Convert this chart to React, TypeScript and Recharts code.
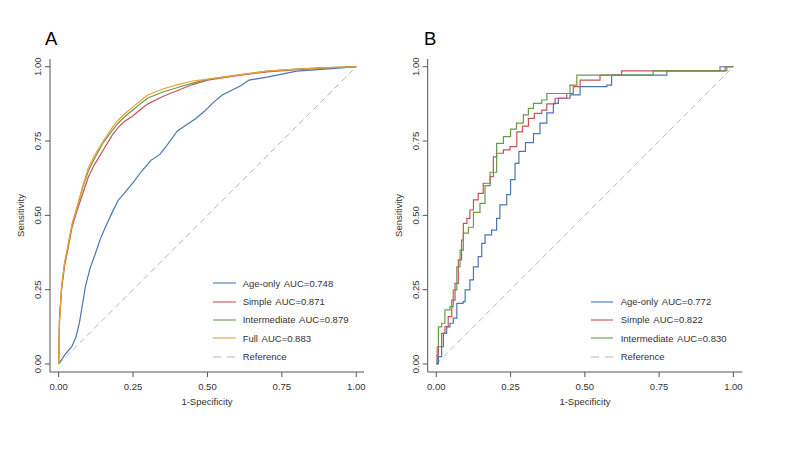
import { LineChart, Line, XAxis, YAxis, Legend } from "recharts";

// ROC points (x = 1-specificity, y = sensitivity)
const axisTicks = [0, 0.25, 0.5, 0.75, 1];

// Panel A
const fprAgeA = [0, 0.02, 0.045, 0.058, 0.07, 0.08, 0.09, 0.105, 0.123, 0.14, 0.157, 0.18, 0.2, 0.225, 0.25, 0.28, 0.31, 0.34, 0.36, 0.38, 0.4, 0.43, 0.46, 0.49, 0.52, 0.55, 0.58, 0.61, 0.64, 0.67, 0.7, 0.75, 0.8, 0.87, 0.94, 1];
const tprAgeA = [0, 0.03, 0.06, 0.09, 0.14, 0.2, 0.26, 0.32, 0.37, 0.42, 0.46, 0.51, 0.55, 0.58, 0.61, 0.65, 0.685, 0.705, 0.73, 0.758, 0.785, 0.805, 0.825, 0.85, 0.88, 0.905, 0.92, 0.935, 0.955, 0.96, 0.965, 0.975, 0.985, 0.99, 0.995, 1];
const fprTopA = [0, 0.003, 0.01, 0.02, 0.03, 0.045, 0.06, 0.08, 0.1, 0.12, 0.15, 0.18, 0.2, 0.22, 0.25, 0.28, 0.3, 0.35, 0.4, 0.45, 0.5, 0.6, 0.7, 0.8, 0.9, 1];
const tprSimpleA = [0, 0.15, 0.25, 0.33, 0.38, 0.46, 0.51, 0.57, 0.63, 0.67, 0.72, 0.77, 0.795, 0.815, 0.835, 0.86, 0.875, 0.9, 0.92, 0.94, 0.955, 0.97, 0.983, 0.99, 0.996, 1];
const tprInterA = [0, 0.15, 0.26, 0.34, 0.39, 0.47, 0.52, 0.59, 0.65, 0.69, 0.745, 0.785, 0.81, 0.83, 0.855, 0.88, 0.895, 0.915, 0.93, 0.945, 0.957, 0.972, 0.985, 0.992, 0.997, 1];
const tprFullA = [0, 0.15, 0.26, 0.34, 0.39, 0.47, 0.52, 0.595, 0.66, 0.7, 0.75, 0.795, 0.82, 0.84, 0.865, 0.89, 0.905, 0.925, 0.94, 0.952, 0.958, 0.972, 0.985, 0.992, 0.997, 1];

// Panel B
const fprAgeB = [0, 0.007, 0.018, 0.024, 0.035, 0.046, 0.057, 0.069, 0.09, 0.097, 0.113, 0.125, 0.141, 0.153, 0.164, 0.186, 0.203, 0.214, 0.237, 0.25, 0.265, 0.278, 0.3, 0.327, 0.349, 0.372, 0.394, 0.411, 0.45, 0.484, 0.574, 0.59, 0.776, 0.955, 1];
const tprAgeB = [0, 0.025, 0.058, 0.103, 0.125, 0.137, 0.154, 0.204, 0.21, 0.249, 0.283, 0.327, 0.361, 0.406, 0.434, 0.45, 0.49, 0.535, 0.57, 0.62, 0.675, 0.715, 0.745, 0.775, 0.81, 0.845, 0.877, 0.894, 0.905, 0.933, 0.938, 0.972, 0.986, 1, 1];
const fprSimpleB = [0, 0.003, 0.007, 0.018, 0.029, 0.04, 0.052, 0.063, 0.074, 0.085, 0.091, 0.103, 0.113, 0.125, 0.141, 0.158, 0.181, 0.192, 0.203, 0.226, 0.248, 0.271, 0.29, 0.31, 0.33, 0.355, 0.372, 0.4, 0.439, 0.461, 0.484, 0.551, 0.624, 0.972, 1];
const tprSimpleB = [0, 0.03, 0.058, 0.103, 0.126, 0.159, 0.215, 0.271, 0.35, 0.417, 0.473, 0.49, 0.518, 0.552, 0.574, 0.608, 0.63, 0.697, 0.709, 0.72, 0.731, 0.781, 0.8, 0.826, 0.843, 0.854, 0.875, 0.894, 0.91, 0.933, 0.955, 0.972, 0.986, 1, 1];
const fprInterB = [0, 0.003, 0.007, 0.018, 0.029, 0.046, 0.057, 0.069, 0.08, 0.091, 0.108, 0.125, 0.147, 0.164, 0.181, 0.203, 0.226, 0.25, 0.27, 0.293, 0.31, 0.327, 0.355, 0.372, 0.45, 0.473, 0.73, 0.978, 1];
const tprInterB = [0, 0.058, 0.125, 0.137, 0.182, 0.193, 0.249, 0.327, 0.383, 0.44, 0.46, 0.51, 0.54, 0.6, 0.645, 0.742, 0.765, 0.79, 0.81, 0.838, 0.86, 0.877, 0.888, 0.91, 0.938, 0.972, 0.986, 1, 1];

const refX = [0, 1];
const refY = [0, 1];

const FONT = '"Liberation Sans", Arial, sans-serif';
const TEXT = "#333";
const AXIS = "#555";
const COLORS = { age: "#4a76ad", simple: "#c5525a", inter: "#6a9a48", full: "#f0a030", ref: "#b8b8b8" };

const toPoints = (xs: number[], ys: number[]) => xs.map((x, i) => ({ x, y: ys[i] }));

type Item = { name: string; color: string; dashed?: boolean };

const YTick = (props: any) => {
  const { x, y, payload } = props;
  return (
    <text
      transform={`translate(${x},${y}) rotate(-90)`}
      textAnchor="middle"
      dominantBaseline="central"
      fontSize={9.5}
      fill={TEXT}
      fontFamily={FONT}
    >
      {Number(payload.value).toFixed(2)}
    </text>
  );
};

const yTitle = (props: any) => {
  const vb = props.viewBox || {};
  const cx = vb.x + vb.width - 29.3;
  const cy = vb.y + vb.height / 2;
  return (
    <text
      transform={`translate(${cx},${cy}) rotate(-90)`}
      textAnchor="middle"
      dominantBaseline="central"
      fontSize={9.5}
      fill={TEXT}
      fontFamily={FONT}
    >
      Sensitivity
    </text>
  );
};

const RocLegend = ({ items, lineWidth, gap }: { items: Item[]; lineWidth: number; gap: number }) => (
  <div style={{ fontFamily: FONT, fontSize: 9.5, color: TEXT }}>
    {items.map((it) => (
      <div key={it.name} style={{ display: "flex", alignItems: "center", height: 18.3 }}>
        <svg width={lineWidth} height={4} style={{ marginRight: gap, display: "block" }}>
          <line
            x1={0}
            y1={2}
            x2={lineWidth}
            y2={2}
            stroke={it.color}
            strokeWidth={1.1}
            strokeDasharray={it.dashed ? "8 6" : undefined}
          />
        </svg>
        <span style={{ whiteSpace: "nowrap", wordSpacing: 1.5 }}>{it.name}</span>
      </div>
    ))}
  </div>
);

type Series = { name: string; color: string; data: { x: number; y: number }[] };

const RocPanel = ({
  left,
  width,
  letter,
  letterLeft,
  margin,
  xDomain,
  series,
  curve,
  legendItems,
  legendPos,
  legendLine,
  legendGap,
}: {
  left: number;
  width: number;
  letter: string;
  letterLeft: number;
  margin: { top: number; left: number; right: number; bottom: number };
  xDomain: [number, number];
  series: Series[];
  curve: "linear" | "stepAfter";
  legendItems: Item[];
  legendPos: { left: number; top: number };
  legendLine: number;
  legendGap: number;
}) => (
  <div style={{ position: "absolute", left, top: 0, width, height: 450 }}>
    <div
      style={{
        position: "absolute",
        left: letterLeft,
        top: 29.5,
        fontFamily: FONT,
        fontSize: 18.5,
        lineHeight: 1,
        color: "#000",
      }}
    >
      {letter}
    </div>
    <LineChart width={width} height={450} margin={margin} style={{ fontFamily: FONT }}>
      <XAxis
        type="number"
        dataKey="x"
        domain={xDomain}
        ticks={axisTicks}
        allowDataOverflow
        height={1}
        tickSize={5}
        tickMargin={6}
        stroke={AXIS}
        tick={{ fontSize: 9.5, fill: TEXT, fontFamily: FONT }}
        tickFormatter={(v: number) => v.toFixed(2)}
        label={{ value: "1-Specificity", position: "bottom", offset: 25, fontSize: 9.5, fill: TEXT, fontFamily: FONT }}
      />
      <YAxis
        type="number"
        dataKey="y"
        domain={[-0.027, 1.026]}
        ticks={axisTicks}
        allowDataOverflow
        width={1}
        tickSize={5}
        tickMargin={7.5}
        stroke={AXIS}
        tick={<YTick />}
        label={yTitle}
      />
      <Line
        data={toPoints(refX, refY)}
        dataKey="y"
        type="linear"
        stroke={COLORS.ref}
        strokeWidth={1}
        strokeDasharray="6 4"
        dot={false}
        activeDot={false}
        isAnimationActive={false}
        legendType="none"
      />
      {series.map((s) => (
        <Line
          key={s.name}
          data={s.data}
          dataKey="y"
          name={s.name}
          type={curve}
          stroke={s.color}
          strokeWidth={1.2}
          dot={false}
          activeDot={false}
          isAnimationActive={false}
        />
      ))}
      <Legend
        layout="vertical"
        align="center"
        verticalAlign="middle"
        wrapperStyle={{ left: legendPos.left, top: legendPos.top, width: "auto", height: "auto" }}
        content={() => <RocLegend items={legendItems} lineWidth={legendLine} gap={legendGap} />}
      />
    </LineChart>
  </div>
);

export default function App() {
  const seriesA: Series[] = [
    { name: "Age-only", color: COLORS.age, data: toPoints(fprAgeA, tprAgeA) },
    { name: "Simple", color: COLORS.simple, data: toPoints(fprTopA, tprSimpleA) },
    { name: "Intermediate", color: COLORS.inter, data: toPoints(fprTopA, tprInterA) },
    { name: "Full", color: COLORS.full, data: toPoints(fprTopA, tprFullA) },
  ];
  const seriesB: Series[] = [
    { name: "Age-only", color: COLORS.age, data: toPoints(fprAgeB, tprAgeB) },
    { name: "Simple", color: COLORS.simple, data: toPoints(fprSimpleB, tprSimpleB) },
    { name: "Intermediate", color: COLORS.inter, data: toPoints(fprInterB, tprInterB) },
  ];
  const legendA: Item[] = [
    { name: "Age-only AUC=0.748", color: COLORS.age },
    { name: "Simple AUC=0.871", color: COLORS.simple },
    { name: "Intermediate AUC=0.879", color: COLORS.inter },
    { name: "Full AUC=0.883", color: COLORS.full },
    { name: "Reference", color: COLORS.ref, dashed: true },
  ];
  const legendB: Item[] = [
    { name: "Age-only AUC=0.772", color: COLORS.age },
    { name: "Simple AUC=0.822", color: COLORS.simple },
    { name: "Intermediate AUC=0.830", color: COLORS.inter },
    { name: "Reference", color: COLORS.ref, dashed: true },
  ];

  return (
    <div style={{ position: "absolute", left: 0, top: 0, width: 800, height: 450, background: "#fff" }}>
      <RocPanel
        left={0}
        width={380}
        letter="A"
        letterLeft={45}
        margin={{ top: 59, left: 49, right: 16, bottom: 77 }}
        xDomain={[-0.029, 1.026]}
        series={seriesA}
        curve="linear"
        legendItems={legendA}
        legendPos={{ left: 212.7, top: 274.2 }}
        legendLine={23.3}
        legendGap={6.7}
      />
      <RocPanel
        left={380}
        width={420}
        letter="B"
        letterLeft={44}
        margin={{ top: 59, left: 46.7, right: 57.7, bottom: 77 }}
        xDomain={[-0.029, 1.03]}
        series={seriesB}
        curve="stepAfter"
        legendItems={legendB}
        legendPos={{ left: 211, top: 292.5 }}
        legendLine={22.3}
        legendGap={7.4}
      />
    </div>
  );
}
